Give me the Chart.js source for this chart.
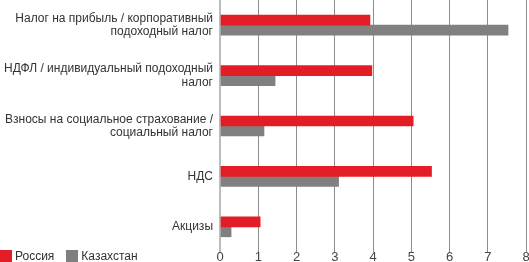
<!DOCTYPE html>
<html><head><meta charset="utf-8">
<script src="https://cdn.jsdelivr.net/npm/chart.js@4"></script>
<style>
html,body{margin:0;padding:0;background:#fff;}
#wrap{position:relative;width:529px;height:262px;}
#legend{position:absolute;left:0;top:249px;font:12px "Liberation Sans",Arial,sans-serif;color:#333;white-space:nowrap;}
#legend span.sw{display:inline-block;width:12px;height:13px;vertical-align:top;margin-right:3px;}
#legend span.it{display:inline-block;margin-right:12px;line-height:13px;}
</style></head>
<body>
<div id="wrap">
<canvas id="c" width="529" height="262"></canvas>
<div id="legend"></div>
</div>
<script>
const categories = [
  ["Налог на прибыль / корпоративный", "подоходный налог"],
  ["НДФЛ / индивидуальный подоходный", "налог"],
  ["Взносы на социальное страхование /", "социальный налог"],
  "НДС",
  "Акцизы"
];
const seriesNames = ["Россия", "Казахстан"];
const russia = [3.92, 3.97, 5.05, 5.53, 1.05];
const kazakhstan = [7.53, 1.44, 1.15, 3.10, 0.29];
const xTicks = [0, 1, 2, 3, 4, 5, 6, 7, 8];
const colors = ["#e31d25", "#808080"];

const leg = document.getElementById('legend');
seriesNames.forEach((n, i) => {
  const it = document.createElement('span'); it.className = 'it';
  const sw = document.createElement('span'); sw.className = 'sw'; sw.style.background = colors[i];
  it.appendChild(sw); it.appendChild(document.createTextNode(n));
  leg.appendChild(it);
});

new Chart(document.getElementById('c'), {
  type: 'bar',
  data: {
    labels: categories,
    datasets: [
      { label: seriesNames[0], data: russia, backgroundColor: colors[0], barThickness: 10 },
      { label: seriesNames[1], data: kazakhstan, backgroundColor: colors[1], barThickness: 10 }
    ]
  },
  options: {
    indexAxis: 'y',
    responsive: false,
    animation: false,
    layout: { padding: { top: 0, right: 0, bottom: 0, left: 0 } },
    plugins: { legend: { display: false }, tooltip: { enabled: false } },
    scales: {
      x: {
        min: 0, max: 8,
        afterBuildTicks: s => { s.ticks = xTicks.map(v => ({ value: v })); },
        afterFit: s => { s.height = 10; s.paddingLeft = 0; s.paddingRight = 3; },
        border: { display: false },
        grid: {
          drawTicks: false,
          color: c => c.index === 0 ? '#bdbdbd' : '#8c8c8c',
          lineWidth: c => c.index === 0 ? 2 : 1
        },
        ticks: { padding: -2, color: '#444', font: { family: 'Liberation Sans', size: 13 } }
      },
      y: {
        afterFit: s => { s.width = 220; s.paddingTop = 0; s.paddingBottom = 0; },
        border: { display: false },
        grid: { display: false, drawTicks: false },
        ticks: { padding: 7, color: '#333', font: { family: 'Liberation Sans', size: 12, lineHeight: 1.1 } }
      }
    }
  }
});
</script>
</body></html>
